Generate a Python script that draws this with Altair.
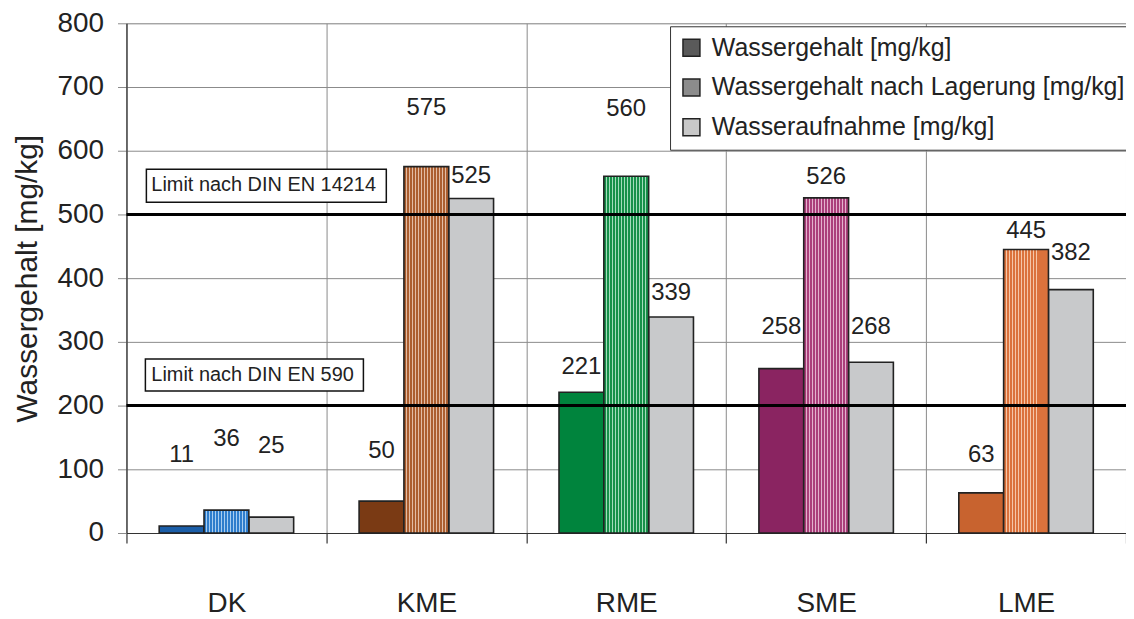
import altair as alt
import pandas as pd

categories = ["DK", "KME", "RME", "SME", "LME"]
series = ["Wassergehalt [mg/kg]", "Wassergehalt nach Lagerung [mg/kg]", "Wasseraufnahme [mg/kg]"]

wassergehalt = [11, 50, 221, 258, 63]
nach_lagerung = [36, 575, 560, 526, 445]
aufnahme = [25, 525, 339, 268, 382]

# label heights (value units) as placed in the figure
label_y_wassergehalt = [122, 129, 260, 324, 122]
label_y_lagerung = [148, 667, 666, 558, 474]
label_y_aufnahme = [137, 561, 377, 324, 440]

fill_solid = ["#1b5ea8", "#7a3a14", "#00843d", "#8a2461", "#c8632f"]
pattern_base = ["#2e7dcc", "#ac5f30", "#17914a", "#ab3f7b", "#db723c"]
pattern_light = ["#a8cdf0", "#e3bda5", "#a4dcbc", "#e3b1cd", "#f5c6a8"]
fill_gray = "#c8c9cb"
legend_gray = ["#5a5a5a", "#8c8c8c", "#c8c8c8"]

limit_values = [500, 200]
limit_labels = ["Limit nach DIN EN 14214", "Limit nach DIN EN 590"]
limit_box_top = [571, 273]
limit_box_bottom = [519, 223]
limit_text_y = [546, 248]

FONT = "Liberation Sans"

rows = []
for i, c in enumerate(categories):
    rows.append(dict(cat=c, series=series[0], value=wassergehalt[i], ly=label_y_wassergehalt[i], fill=fill_solid[i]))
    rows.append(dict(cat=c, series=series[1], value=nach_lagerung[i], ly=label_y_lagerung[i], fill="none"))
    rows.append(dict(cat=c, series=series[2], value=aufnahme[i], ly=label_y_aufnahme[i], fill=fill_gray))
df = pd.DataFrame(rows)

limits = pd.DataFrame(dict(v=limit_values))
boxes = pd.DataFrame(dict(label=limit_labels, top=limit_box_top, bottom=limit_box_bottom,
                          ty=limit_text_y))

xscale = alt.Scale(domain=categories, paddingInner=0, paddingOuter=0)
yscale = alt.Scale(domain=[0, 800], nice=False)
offscale = alt.Scale(domain=series, paddingInner=0, paddingOuter=0.73)

x_axis = alt.Axis(title=None, tickBand="extent", grid=True, gridColor="#8a8a8a", gridWidth=1,
                  labelFontSize=28, labelColor="#222", labelFont=FONT, labelAngle=0,
                  labelPadding=47, domainColor="#333", domainWidth=1.2, tickColor="#333",
                  tickSize=10, tickWidth=1.2)
y_axis = alt.Axis(title="Wassergehalt [mg/kg]", values=list(range(0, 801, 100)), grid=True,
                  gridColor="#8a8a8a", gridWidth=1, labelFontSize=28, labelColor="#222",
                  labelFont=FONT, labelPadding=14, tickColor="#8a8a8a", tickSize=9,
                  domainColor="#333", domainWidth=1.2, titleFontSize=30, titleFont=FONT,
                  titleFontWeight="normal", titleColor="#222", titlePadding=15)


def X(field="cat:N"):
    return alt.X(field, scale=xscale, axis=x_axis)


def Y(field):
    return alt.Y(field, scale=yscale, axis=y_axis)


def XO():
    return alt.XOffset("series:N", scale=offscale)


def dotted(base_col, light_col, n=15):
    stops = []
    for k in range(n):
        a = k / n
        b = (k + 0.68) / n
        c = (k + 1) / n
        stops += [alt.GradientStop(offset=a, color=base_col),
                  alt.GradientStop(offset=b, color=base_col),
                  alt.GradientStop(offset=b, color=light_col),
                  alt.GradientStop(offset=c, color=light_col)]
    return alt.LinearGradient(gradient="linear", stops=stops, x1=0, x2=1, y1=0, y2=0)


base = alt.Chart(df)

solid_bars = base.transform_filter(alt.datum.series != series[1]).mark_bar(
    stroke="#222", strokeWidth=1.6).encode(
    x=X(), xOffset=XO(), y=Y("value:Q"),
    fill=alt.Fill("fill:N", scale=None),
)

pattern_layers = []
for i, c in enumerate(categories):
    pattern_layers.append(
        base.transform_filter((alt.datum.series == series[1]) & (alt.datum.cat == c)).mark_bar(
            stroke="#222", strokeWidth=1.6, fill=dotted(pattern_base[i], pattern_light[i])).encode(
            x=X(), xOffset=XO(), y=Y("value:Q"),
        )
    )

legend_layer = base.mark_bar(opacity=0).encode(
    x=X(), xOffset=XO(), y=Y("value:Q"),
    color=alt.Color("series:N", scale=alt.Scale(domain=series, range=legend_gray),
                    legend=alt.Legend(orient="none", legendX=546, legendY=3, title=None,
                                      fillColor="white", strokeColor="#333", padding=9,
                                      symbolType="square", symbolSize=290,
                                      symbolStrokeColor="#222", symbolStrokeWidth=1.5,
                                      symbolOpacity=1, labelFontSize=25, labelFont=FONT,
                                      labelColor="#222", rowPadding=14, labelLimit=1000,
                                      labelOffset=8)),
)

labels = base.mark_text(fontSize=24, font=FONT, color="#222", baseline="middle").encode(
    x=X(), xOffset=XO(), y=Y("ly:Q"),
    text=alt.Text("value:Q"),
)

limit_rules = alt.Chart(limits).mark_rule(color="black", strokeWidth=3).encode(
    y=Y("v:Q"),
)

box_a = alt.Chart(boxes.iloc[[0]]).mark_rect(fill="white", stroke="#111", strokeWidth=1.5).encode(
    x=alt.value(20), x2=alt.value(261), y=Y("top:Q"), y2="bottom:Q",
)
box_b = alt.Chart(boxes.iloc[[1]]).mark_rect(fill="white", stroke="#111", strokeWidth=1.5).encode(
    x=alt.value(19), x2=alt.value(238), y=Y("top:Q"), y2="bottom:Q",
)

box_text = alt.Chart(boxes).mark_text(fontSize=20, font=FONT, color="#222", align="left",
                                      baseline="middle").encode(
    x=alt.value(25), y=Y("ty:Q"), text="label:N",
)

chart = alt.layer(solid_bars, *pattern_layers, legend_layer, limit_rules, labels,
                  box_a, box_b, box_text).properties(
    width=1004, height=512,
    autosize=alt.AutoSizeParams(type="none"),
    padding={"left": 119, "top": 14, "right": 0, "bottom": 84},
).configure_view(stroke=None).configure(font=FONT)

chart.save("out.html", embed_options={"renderer": "svg", "actions": False})
